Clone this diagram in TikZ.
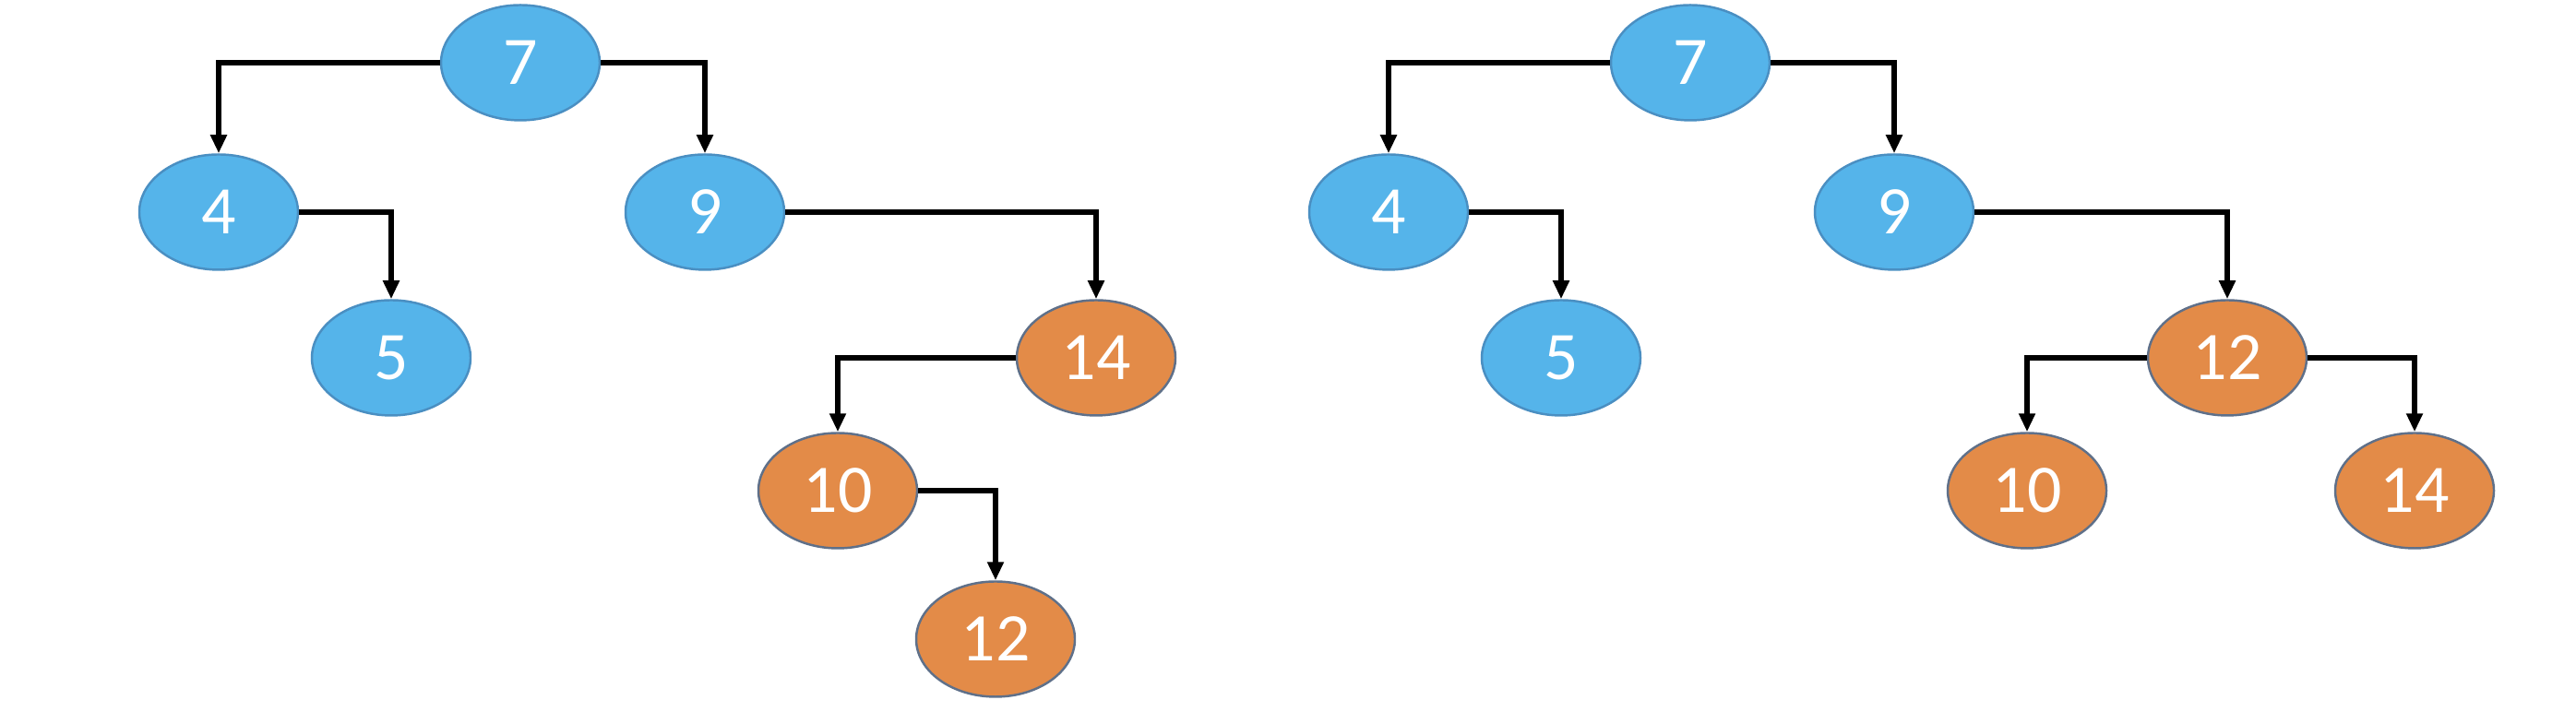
\documentclass[tikz,border=0pt]{standalone}
\usepackage{fontspec}
\setmainfont{Carlito}
\usetikzlibrary{shapes.geometric,arrows.meta}
\definecolor{nblue}{HTML}{55B4EA}
\definecolor{nblueb}{HTML}{4A8FC2}
\definecolor{norange}{HTML}{E38B48}
\definecolor{norangeb}{HTML}{5F7089}
\tikzset{
  tnode/.style={ellipse, minimum width=1.72cm, minimum height=1.25cm, inner sep=0pt,
    line width=0.7pt, text=white, font=\fontsize{21}{24}\selectfont},
  bnode/.style={tnode, fill=nblue, draw=nblueb},
  onode/.style={tnode, fill=norange, draw=norangeb},
  edge/.style={line width=1.5pt, -{Triangle[length=0.2cm,width=0.17cm]}}
}
\begin{document}
\begin{tikzpicture}
\useasboundingbox[fill=white] (0,0) rectangle (27.92,7.72);
% left tree
\node[bnode] (a7) at (5.64,7.04) {7};
\node[bnode] (a4) at (2.37,5.42) {4};
\node[bnode] (a9) at (7.64,5.42) {9};
\node[bnode] (a5) at (4.24,3.84) {5};
\node[onode] (a14) at (11.88,3.84) {14};
\node[onode] (a10) at (9.08,2.40) {10};
\node[onode] (a12) at (10.79,0.79) {12};
\draw[edge] (a7.west) -| (a4.north);
\draw[edge] (a7.east) -| (a9.north);
\draw[edge] (a4.east) -| (a5.north);
\draw[edge] (a9.east) -| (a14.north);
\draw[edge] (a14.west) -| (a10.north);
\draw[edge] (a10.east) -| (a12.north);
% right tree
\node[bnode] (b7) at (18.32,7.04) {7};
\node[bnode] (b4) at (15.05,5.42) {4};
\node[bnode] (b9) at (20.53,5.42) {9};
\node[bnode] (b5) at (16.92,3.84) {5};
\node[onode] (b12) at (24.14,3.84) {12};
\node[onode] (b10) at (21.97,2.40) {10};
\node[onode] (b14) at (26.17,2.40) {14};
\draw[edge] (b7.west) -| (b4.north);
\draw[edge] (b7.east) -| (b9.north);
\draw[edge] (b4.east) -| (b5.north);
\draw[edge] (b9.east) -| (b12.north);
\draw[edge] (b12.west) -| (b10.north);
\draw[edge] (b12.east) -| (b14.north);
\end{tikzpicture}
\end{document}
